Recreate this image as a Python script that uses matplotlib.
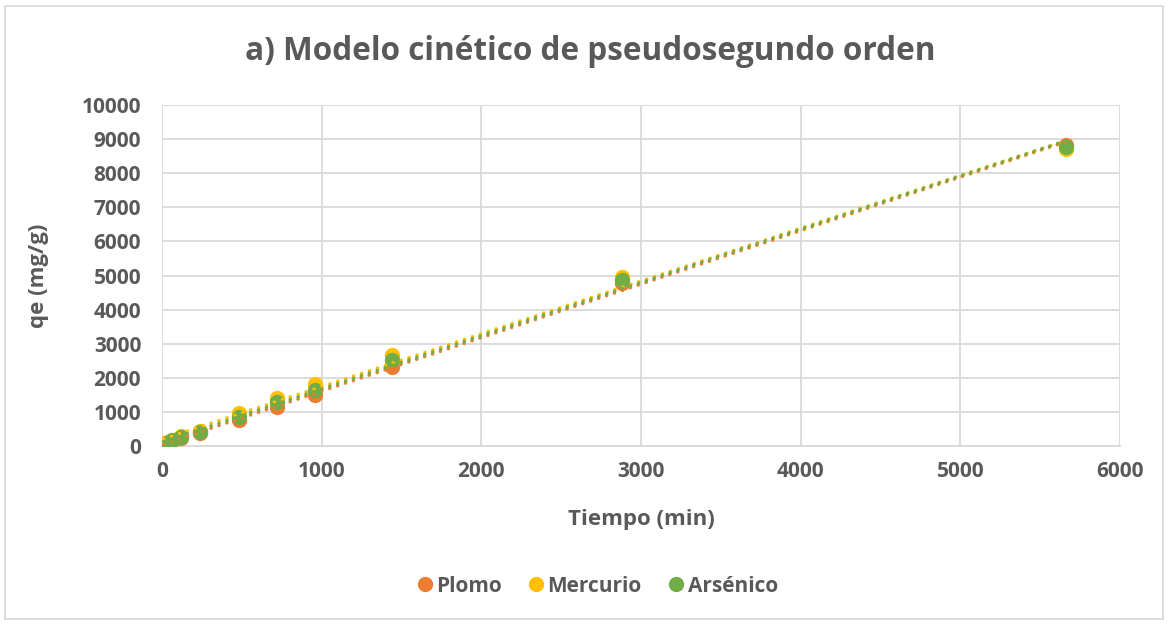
import numpy as np
import matplotlib
matplotlib.use("Agg")
import matplotlib.pyplot as plt
from matplotlib.patches import Rectangle
from matplotlib.lines import Line2D

plt.rcParams["font.family"] = ["Open Sans", "DejaVu Sans"]

# Contact time (min) and adsorbed amount per metal
tiempo = [10, 30, 60, 120, 240, 480, 720, 960, 1440, 2880, 5660]
plomo = [30, 80, 160, 240, 390, 760, 1140, 1500, 2320, 4780, 8820]
mercurio = [40, 110, 190, 280, 450, 970, 1420, 1830, 2680, 4960, 8700]
arsenico = [30, 90, 170, 250, 410, 850, 1290, 1640, 2520, 4870, 8770]

series = [
    ("Plomo", plomo, "#ED7D31"),
    ("Mercurio", mercurio, "#FFC000"),
    ("Arsénico", arsenico, "#70AD47"),
]

W, H = 1169, 624
fig = plt.figure(figsize=(W / 100, H / 100), dpi=100)
ax = fig.add_axes([162 / W, 1 - 446 / H, (1120 - 162) / W, (446 - 105) / H])

text_col = "#595959"
grid_col = "#D9D9D9"
msize = 11

x = np.array(tiempo, dtype=float)
for name, vals, col in series:
    ax.plot(x, vals, "o", color=col, markersize=msize, markeredgewidth=0,
            zorder=3, label=name)

# Linear trendlines drawn over the markers
for name, vals, col in series:
    m, b = np.polyfit(x, np.array(vals, dtype=float), 1)
    xs = np.array([x.min(), x.max()])
    ax.plot(xs, m * xs + b, color=col, linewidth=2.6,
            linestyle=(0, (0.01, 2.3)), dash_capstyle="round", zorder=4)

ax.set_xlim(0, 6000)
ax.set_ylim(0, 10000)
ax.set_xticks(np.arange(0, 6001, 1000))
ax.set_yticks(np.arange(0, 10001, 1000))
ax.grid(True, color=grid_col, linewidth=1.3)
ax.set_axisbelow(True)
for s in ["top", "right", "left"]:
    ax.spines[s].set_visible(False)
ax.spines["bottom"].set_color(grid_col)
ax.spines["bottom"].set_linewidth(1.3)
ax.tick_params(length=0, labelsize=15, labelcolor=text_col)
ax.tick_params(axis="x", pad=11)
ax.tick_params(axis="y", pad=15)
for lbl in ax.get_xticklabels() + ax.get_yticklabels():
    lbl.set_fontweight("bold")

ax.set_xlabel("Tiempo (min)", fontsize=16, fontweight="bold", color=text_col)
ax.set_ylabel("qe (mg/g)", fontsize=16, fontweight="bold", color=text_col)
ax.xaxis.set_label_coords(0.5, (446 - 519) / 341, transform=ax.transAxes)
ax.yaxis.set_label_coords((38 - 162) / 958, 0.5, transform=ax.transAxes)
ax.xaxis.label.set_va("center")
ax.yaxis.label.set_va("center")

fig.text(590 / W, 1 - 52 / H, "a) Modelo cinético de pseudosegundo orden",
         ha="center", va="center", fontsize=22.7, fontweight="bold",
         color=text_col)

handles = [Line2D([], [], marker="o", linestyle="none", color=c,
                  markersize=msize, markeredgewidth=0) for _, _, c in series]
fig.legend(handles, [n for n, _, _ in series], loc="center",
           bbox_to_anchor=(596 / W, 1 - 586 / H), ncol=3, frameon=False,
           prop={"size": 15, "weight": "bold"}, labelcolor=text_col,
           handletextpad=0.05, columnspacing=1.15, handlelength=1.0)

fig.add_artist(Rectangle((5 / W, 5 / H), (W - 11) / W, (H - 11) / H,
                         transform=fig.transFigure, fill=False,
                         edgecolor=grid_col, linewidth=1.3))

fig.savefig("out.png", dpi=100, facecolor="white")
